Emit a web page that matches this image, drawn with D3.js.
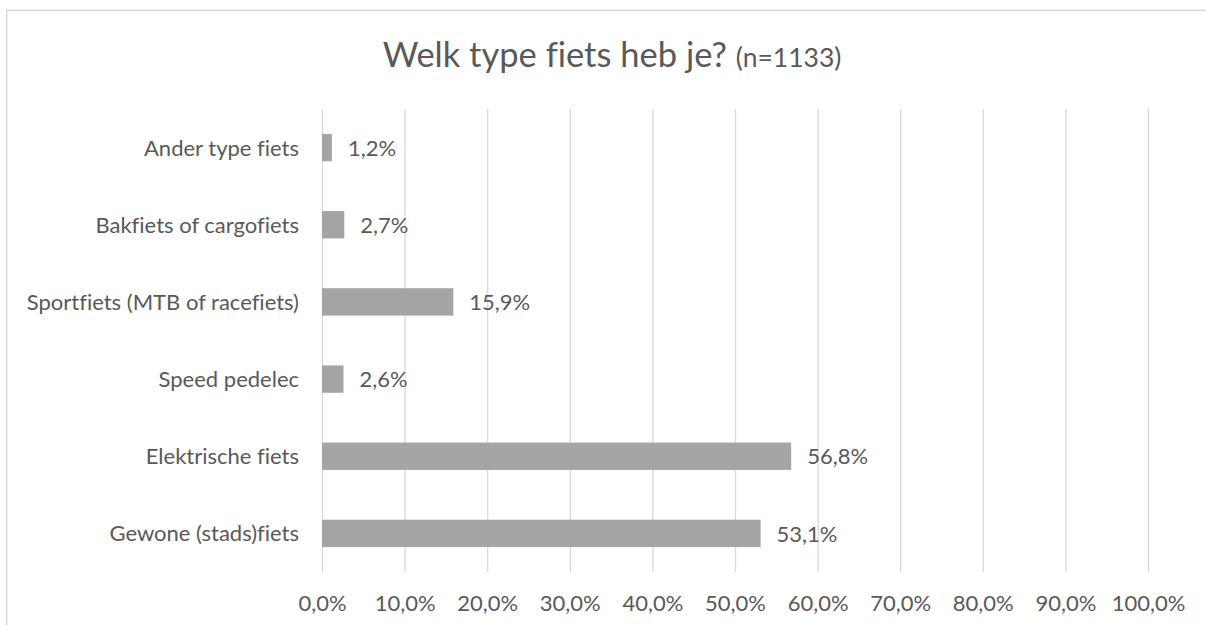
<!DOCTYPE html>
<html>
<head>
<meta charset="utf-8">
<script src="https://cdn.jsdelivr.net/npm/d3@7"></script>
<style>
  html, body { margin: 0; padding: 0; background: #fff; }
  svg { display: block; }
  text { font-family: Lato, "Open Sans", sans-serif; fill: #595959; font-variant-ligatures: none; font-feature-settings: "liga" 0, "clig" 0; }
</style>
</head>
<body>
<svg id="chart" width="1206" height="625"></svg>
<script>
const titleMain = "Welk type fiets heb je?";
const titleSub = "(n=1133)";
const categories = ["Ander type fiets", "Bakfiets of cargofiets", "Sportfiets (MTB of racefiets)", "Speed pedelec", "Elektrische fiets", "Gewone (stads)fiets"];
const values = [1.2, 2.7, 15.9, 2.6, 56.8, 53.1];
const ticks = [0, 10, 20, 30, 40, 50, 60, 70, 80, 90, 100];

const svg = d3.select("#chart");
const plot = { left: 322, right: 1148, top: 109, bottom: 572 };

svg.append("rect")
  .attr("x", 6.75).attr("y", 10.25)
  .attr("width", 1240).attr("height", 700)
  .attr("fill", "#fff")
  .attr("stroke", "#D9D9D9").attr("stroke-width", 1.5);

const x = d3.scaleLinear().domain([0, 100]).range([plot.left, plot.right]);
const y = d3.scaleBand().domain(categories).range([plot.top, plot.bottom])
  .paddingInner(0.6454).paddingOuter(0.3227);

const fmt = v => d3.format(".1f")(v).replace(".", ",") + "%";

// gridlines + tick labels via axis
const xAxis = d3.axisBottom(x).tickValues(ticks).tickFormat(fmt)
  .tickSize(-(plot.bottom - plot.top)).tickPadding(0);
const gx = svg.append("g").attr("transform", `translate(0,${plot.bottom})`).call(xAxis);
gx.select(".domain").remove();
gx.selectAll(".tick line").attr("stroke", "#D9D9D9").attr("stroke-width", 1.3);
gx.selectAll(".tick text")
  .attr("y", 38.5).attr("dy", null)
  .style("font-family", "Lato, 'Open Sans', sans-serif")
  .style("font-size", "22px").attr("fill", "#595959");

// category axis labels
const yAxis = d3.axisLeft(y).tickSize(0).tickPadding(23);
const gy = svg.append("g").attr("transform", `translate(${plot.left},0)`).call(yAxis);
gy.select(".domain").remove();
gy.selectAll(".tick text")
  .attr("dy", "0.36em")
  .style("font-family", "Lato, 'Open Sans', sans-serif")
  .style("font-size", "22px").attr("fill", "#595959");

// bars
svg.append("g").selectAll("rect").data(categories).join("rect")
  .attr("x", x(0))
  .attr("y", d => y(d))
  .attr("width", (d, i) => x(values[i]) - x(0))
  .attr("height", y.bandwidth())
  .attr("fill", "#A5A5A5");

// value labels
svg.append("g").selectAll("text").data(categories).join("text")
  .attr("x", (d, i) => x(values[i]) + 16)
  .attr("y", d => y(d) + y.bandwidth() / 2)
  .attr("dy", "0.37em")
  .style("font-size", "22px")
  .text((d, i) => fmt(values[i]));

// title
const t = svg.append("text")
  .attr("x", 612).attr("y", 67)
  .attr("text-anchor", "middle");
t.append("tspan").style("font-size", "34.5px").text(titleMain + " ");
t.append("tspan").style("font-size", "26.5px").text(titleSub);
</script>
</body>
</html>
